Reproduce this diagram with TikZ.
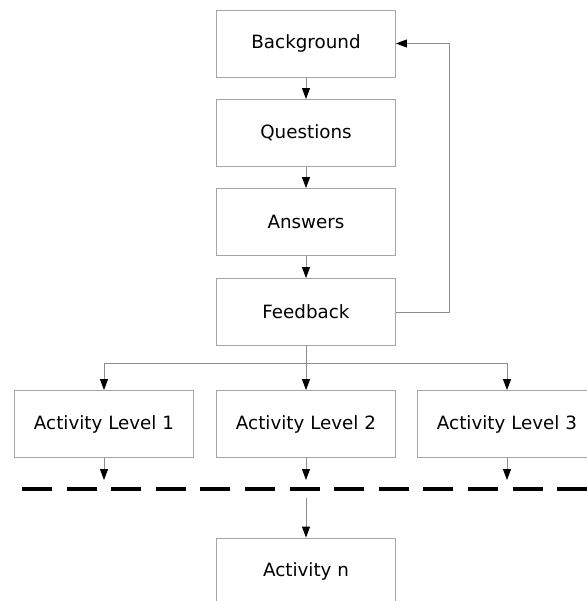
\documentclass[tikz,border=0pt]{standalone}
\usepackage{fontspec}
\setmainfont{DejaVu Sans}
\usetikzlibrary{arrows.meta}

\definecolor{boxgray}{RGB}{165,165,165}
\definecolor{linegray}{RGB}{140,140,140}

\tikzset{every picture/.style={line width=0.9pt}}
\tikzset{
  stagebox/.style={draw=boxgray, minimum width=179pt, minimum height=67pt, inner sep=0pt, font=\fontsize{18.3}{22}\selectfont},
  flowline/.style={draw=linegray, -{Triangle[length=11pt,width=8pt,fill=black,color=black]}},
  plainline/.style={draw=linegray}
}

\begin{document}
\begin{tikzpicture}[x=1pt,y=1pt,yscale=-1,xscale=1]
	\useasboundingbox (0,0) rectangle (586,601);
	
	% Text Node
	\node [stagebox] (bg) at (306,43.5) {Background};
	% Text Node
	\node [stagebox] (qu) at (306,133) {Questions};
	% Text Node
	\node [stagebox] (an) at (306,222) {Answers};
	% Text Node
	\node [stagebox] (fb) at (306,312) {Feedback};
	% Text Node
	\node [stagebox] (lvA) at (104,424) {Activity Level 1};
	% Text Node
	\node [stagebox] (lvB) at (306,424) {Activity Level 2};
	% Text Node
	\node [stagebox] (lvC) at (507,424) {Activity Level 3};
	% Text Node
	\node [stagebox] (actn) at (306,571.5) {Activity n};
	
	%Straight Lines
	\draw [flowline] (bg) -- (qu);
	\draw [flowline] (qu) -- (an);
	\draw [flowline] (an) -- (fb);
	%Feedback loop
	\draw [flowline] (fb.east) -- (449,312) -- (449,43.5) -- (bg.east);
	%Split
	\coordinate (split) at (306,363);
	\draw [plainline] (fb) -- (split);
	\draw [flowline] (split) -| (lvA);
	\draw [flowline] (split) -- (lvB);
	\draw [flowline] (split) -| (lvC);
	
	%Arrows to the dashed line
	\coordinate (endA) at (104,480);
	\coordinate (endB) at (306,480);
	\coordinate (endC) at (507,480);
	\draw [flowline] (lvA) -- (endA);
	\draw [flowline] (lvB) -- (endB);
	\draw [flowline] (lvC) -- (endC);
	
	%Dashed line
	\draw [line width=3.8pt, dash pattern={on 30pt off 14.6pt}] (22,489) -- (600,489);
	
	\coordinate (startn) at (306,498);
	\draw [flowline] (startn) -- (actn);
	
\end{tikzpicture}
\end{document}
